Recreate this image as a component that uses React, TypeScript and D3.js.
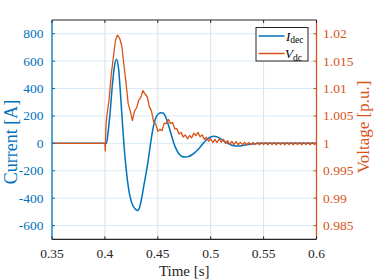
import React from "react";
import * as d3 from "d3";

// ---- data ----
const xTicks = [0.35, 0.4, 0.45, 0.5, 0.55, 0.6];
const xTickLabels = ["0.35", "0.4", "0.45", "0.5", "0.55", "0.6"];
const leftTicks = [-600, -400, -200, 0, 200, 400, 600, 800];
const leftTickLabels = ["-600", "-400", "-200", "0", "200", "400", "600", "800"];
const rightTicks = [0.985, 0.99, 0.995, 1, 1.005, 1.01, 1.015, 1.02];
const rightTickLabels = ["0.985", "0.99", "0.995", "1", "1.005", "1.01", "1.015", "1.02"];

const currentTime = [
  0.35, 0.38, 0.4, 0.4015, 0.403, 0.405, 0.407, 0.409, 0.411, 0.413, 0.415, 0.417,
  0.419, 0.421, 0.423, 0.425, 0.427, 0.429, 0.431, 0.433, 0.435, 0.437, 0.439, 0.441,
  0.443, 0.445, 0.447, 0.449, 0.451, 0.453, 0.455, 0.457, 0.459, 0.461, 0.463, 0.465,
  0.467, 0.469, 0.471, 0.473, 0.475, 0.477, 0.479, 0.482, 0.485, 0.488, 0.491, 0.494,
  0.497, 0.5, 0.503, 0.506, 0.509, 0.512, 0.515, 0.518, 0.521, 0.524, 0.527, 0.53,
  0.534, 0.538, 0.542, 0.546, 0.55, 0.56, 0.57, 0.58, 0.59, 0.6,
];
const currentIdec = [
  0, 0, 0, 0, 80, 230, 420, 560, 613, 540, 330, 100,
  -100, -250, -360, -425, -462, -482, -490, -462, -390, -300, -215, -120,
  -10, 90, 160, 200, 218, 224, 222, 200, 160, 110, 55, 5,
  -35, -65, -85, -96, -100, -100, -96, -85, -68, -45, -18, 10,
  32, 46, 51, 47, 35, 20, 5, -7, -15, -19, -19, -16,
  -10, -5, -2, 0, 1, 1, 0, 0, 0, 0,
];

const voltageTime = [
  0.35, 0.38, 0.4, 0.4004, 0.401, 0.402, 0.404, 0.406, 0.408, 0.41, 0.412, 0.414,
  0.416, 0.418, 0.42, 0.422, 0.424, 0.426, 0.428, 0.43, 0.432, 0.434, 0.436, 0.438,
  0.44, 0.442, 0.444, 0.446, 0.448, 0.45, 0.452, 0.454, 0.456, 0.458, 0.46, 0.462,
  0.464, 0.466, 0.468, 0.47, 0.472, 0.474, 0.476, 0.478, 0.48, 0.482, 0.484, 0.486,
  0.488, 0.49, 0.492, 0.494, 0.496, 0.498, 0.5, 0.502, 0.504, 0.506, 0.508, 0.51,
  0.512, 0.514, 0.516, 0.518, 0.52, 0.522, 0.524, 0.526, 0.528, 0.53, 0.532, 0.534,
  0.536, 0.538, 0.54, 0.542, 0.544, 0.546, 0.548, 0.55, 0.552, 0.554, 0.556, 0.558,
  0.56, 0.562, 0.564, 0.566, 0.568, 0.57, 0.572, 0.574, 0.576, 0.578, 0.58, 0.582,
  0.584, 0.586, 0.588, 0.59, 0.592, 0.594, 0.596, 0.598, 0.6,
];
const voltageVdc = [
  1.0, 1.0, 1.0, 0.99863, 1.00325, 1.0053, 1.00795, 1.01255, 1.0157, 1.0188, 1.01975, 1.01913,
  1.01775, 1.01425, 1.011, 1.00725, 1.00588, 1.00413, 1.00588, 1.0065, 1.00788, 1.00838, 1.00963, 1.009,
  1.0085, 1.0067, 1.00593, 1.00395, 1.00355, 1.0022, 1.00255, 1.00233, 1.00368, 1.00358, 1.00438, 1.00365,
  1.0038, 1.00265, 1.00268, 1.0017, 1.002, 1.00115, 1.00155, 1.00083, 1.00143, 1.001, 1.00185, 1.0014,
  1.002, 1.0012, 1.00155, 1.0007, 1.0011, 1.00038, 1.00085, 1.00015, 1.00073, 1.00015, 1.0008, 1.0002,
  1.00073, 1.0, 1.0005, 0.99983, 1.00035, 0.99978, 1.0003, 0.99975, 1.00018, 0.99976, 1.00017, 0.99975,
  1.00018, 0.99976, 1.00017, 0.99977, 1.00018, 0.99975, 1.00017, 0.99976, 1.00018, 0.99975, 1.00017, 0.99976,
  1.00018, 0.99975, 1.00017, 0.99976, 1.00018, 0.99975, 1.00017, 0.99976, 1.00018, 0.99975, 1.00017, 0.99976,
  1.00018, 0.99975, 1.00017, 0.99976, 1.00018, 0.99975, 1.00017, 0.99976, 1.00015,
];

// ---- layout ----
const W = 374;
const H = 280;
const L = 52;
const R = 316.5;
const T = 20;
const B = 239.3;
const BLUE = "#0072BD";
const ORANGE = "#D95319";
const AX = "#262626";
const FONT = "'Liberation Serif', 'Times New Roman', Times, serif";

export default function App() {
  const x = d3.scaleLinear().domain([0.35, 0.6]).range([L, R]);
  const yL = d3.scaleLinear().domain([-700, 900]).range([B, T]);
  const yR = d3.scaleLinear().domain([0.9825, 1.0225]).range([B, T]);

  const curData = currentTime.map((t, i) => [t, currentIdec[i]] as [number, number]);
  const volData = voltageTime.map((t, i) => [t, voltageVdc[i]] as [number, number]);

  const curLine = d3
    .line<[number, number]>()
    .x((d) => x(d[0]))
    .y((d) => yL(d[1]))
    .curve(d3.curveMonotoneX);
  const volLine = d3
    .line<[number, number]>()
    .x((d) => x(d[0]))
    .y((d) => yR(d[1]));

  const tl = 3;
  const txt = { fontFamily: FONT };

  return (
    <svg
      width={W}
      height={H}
      style={{ position: "absolute", left: 0, top: 0, background: "#fff", fontFamily: FONT }}
    >
      {/* grid */}
      {xTicks.slice(1, -1).map((t, i) => (
        <line key={"gx" + i} x1={x(t)} x2={x(t)} y1={T} y2={B} stroke="#dfdfdf" strokeWidth={1} />
      ))}
      {leftTicks.map((v, i) => (
        <line key={"gy" + i} x1={L} x2={R} y1={yL(v)} y2={yL(v)} stroke="#d9e9f5" strokeWidth={1} />
      ))}

      {/* series */}
      <path d={curLine(curData) || ""} fill="none" stroke={BLUE} strokeWidth={1.5} />
      <path d={volLine(volData) || ""} fill="none" stroke={ORANGE} strokeWidth={1.3} strokeLinejoin="round" />

      {/* frame */}
      <line x1={L} x2={R} y1={T} y2={T} stroke={AX} strokeWidth={1.2} />
      <line x1={L} x2={R} y1={B} y2={B} stroke={AX} strokeWidth={1.2} />
      <line x1={L} x2={L} y1={T} y2={B} stroke={BLUE} strokeWidth={1.3} />
      <line x1={R} x2={R} y1={T} y2={B} stroke={ORANGE} strokeWidth={1.3} />

      {/* x ticks */}
      {xTicks.map((t, i) => (
        <g key={"xt" + i}>
          <line x1={x(t)} x2={x(t)} y1={B} y2={B - tl} stroke={AX} strokeWidth={1} />
          <line x1={x(t)} x2={x(t)} y1={T} y2={T + tl} stroke={AX} strokeWidth={1} />
          <text style={txt} x={x(t)} y={B + 19} textAnchor="middle" fontSize={13.5} fill={AX}>
            {xTickLabels[i]}
          </text>
        </g>
      ))}
      {/* left ticks */}
      {leftTicks.map((v, i) => (
        <g key={"lt" + i}>
          <line x1={L} x2={L + tl} y1={yL(v)} y2={yL(v)} stroke={BLUE} strokeWidth={1} />
          <text style={txt} x={L - 8.5} y={yL(v) + 4.5} textAnchor="end" fontSize={13.5} fill={BLUE}>
            {leftTickLabels[i]}
          </text>
        </g>
      ))}
      {/* right ticks */}
      {rightTicks.map((v, i) => (
        <g key={"rt" + i}>
          <line x1={R} x2={R - tl} y1={yR(v)} y2={yR(v)} stroke={ORANGE} strokeWidth={1} />
          <text style={txt} x={R + 6.5} y={yR(v) + 4.5} textAnchor="start" fontSize={13.5} fill={ORANGE}>
            {rightTickLabels[i]}
          </text>
        </g>
      ))}

      {/* axis labels */}
      <text style={txt} x={(L + R) / 2} y={276} textAnchor="middle" fontSize={15} fill={AX}>
        Time [s]
      </text>
      <text style={txt} transform={`translate(16.5,142) rotate(-90)`} textAnchor="middle" fontSize={18} fill={BLUE}>
        Current [A]
      </text>
      <text style={txt} transform={`translate(369,127) rotate(-90)`} textAnchor="middle" fontSize={17} fill={ORANGE}>
        Voltage [p.u.]
      </text>

      {/* legend */}
      <rect x={256} y={27.5} width={52} height={33.5} fill="#fff" stroke={AX} strokeWidth={1} />
      <line x1={258.5} x2={284.5} y1={36} y2={36} stroke={BLUE} strokeWidth={1.5} />
      <line x1={258.5} x2={284.5} y1={53.5} y2={53.5} stroke={ORANGE} strokeWidth={1.5} />
      <text style={txt} x={286} y={40.5} fontSize={13} fill="#000">
        <tspan fontStyle="italic">I</tspan>
        <tspan fontSize={9.5} dy={2.5}>dec</tspan>
      </text>
      <text style={txt} x={285} y={58} fontSize={13} fill="#000">
        <tspan fontStyle="italic">V</tspan>
        <tspan fontSize={9.5} dy={2.5}>dc</tspan>
      </text>
    </svg>
  );
}
